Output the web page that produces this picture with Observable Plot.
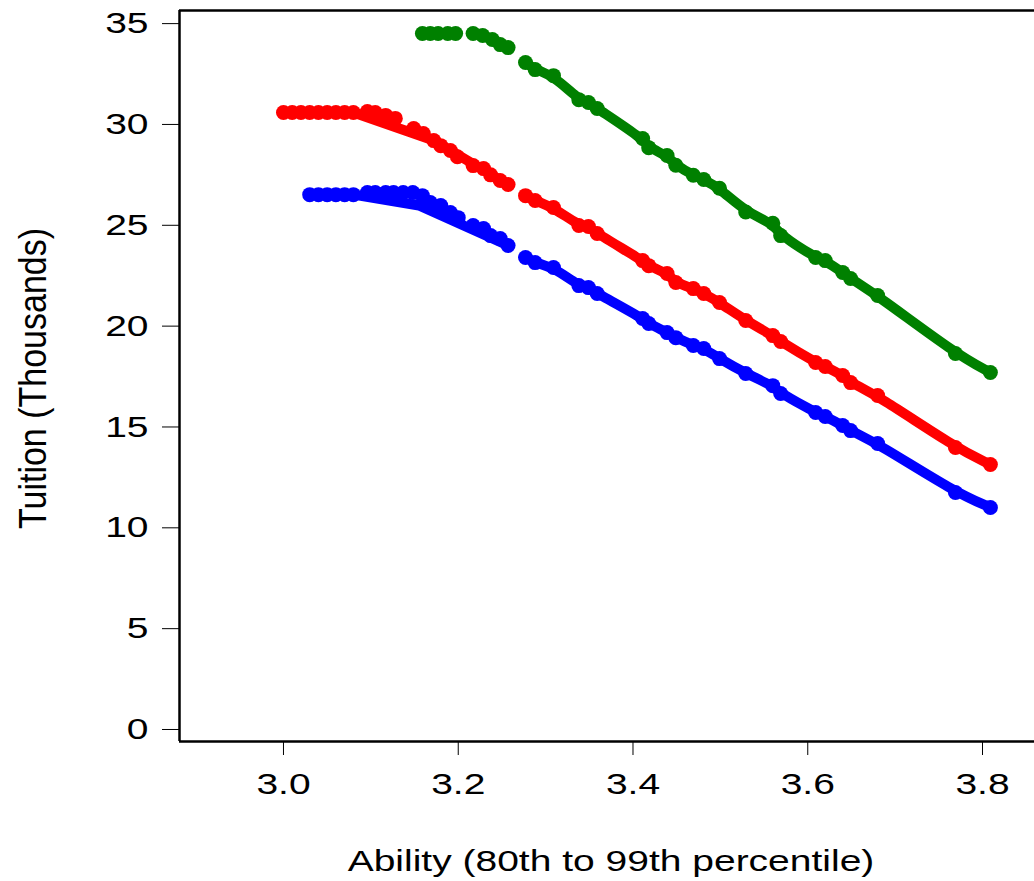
<!DOCTYPE html>
<html>
<head>
<meta charset="utf-8">
<script src="https://cdn.jsdelivr.net/npm/d3@7"></script>
<script src="https://cdn.jsdelivr.net/npm/@observablehq/plot@0.6"></script>
<style>
  html, body { margin: 0; padding: 0; background: #fff; }
  #chart { width: 1034px; height: 881px; }
</style>
</head>
<body>
<div id="chart"></div>
<script>
// ---------- data ----------
const xTitle = "Ability (80th to 99th percentile)";
const yTitle = "Tuition (Thousands)";
const xTicks = [3.0, 3.2, 3.4, 3.6, 3.8];
const yTicks = [0, 5, 10, 15, 20, 25, 30, 35];

// shared ability grid for the right-hand (linear) part
const rightAbility = [3.277, 3.288, 3.309, 3.338, 3.349, 3.359, 3.411, 3.418, 3.439, 3.449, 3.469, 3.481, 3.499, 3.529, 3.560, 3.569, 3.609, 3.620, 3.640, 3.649, 3.680, 3.769, 3.809];
const blueRight  = [23.40, 23.15, 22.91, 22.01, 21.91, 21.62, 20.38, 20.13, 19.68, 19.43, 19.04, 18.89, 18.39, 17.65, 17.05, 16.66, 15.72, 15.52, 15.07, 14.82, 14.18, 11.75, 11.01];
const redRight   = [26.47, 26.23, 25.88, 24.99, 24.94, 24.59, 23.25, 23.00, 22.61, 22.16, 21.86, 21.62, 21.17, 20.28, 19.53, 19.24, 18.20, 18.00, 17.55, 17.20, 16.56, 13.98, 13.14];
const greenRight = [33.07, 32.72, 32.42, 31.23, 31.09, 30.79, 29.30, 28.85, 28.46, 27.98, 27.48, 27.27, 26.84, 25.66, 25.10, 24.49, 23.40, 23.25, 22.66, 22.36, 21.52, 18.64, 17.70];

// left-hand (capped) dots
const blueLeftX = [3.03, 3.04, 3.05, 3.06, 3.07, 3.08, 3.096, 3.105, 3.117, 3.126, 3.137, 3.148, 3.159, 3.168, 3.180, 3.191, 3.200, 3.217, 3.229, 3.237, 3.248, 3.257];
const blueLeftY = [26.52, 26.52, 26.52, 26.52, 26.52, 26.52, 26.62, 26.62, 26.62, 26.62, 26.62, 26.62, 26.47, 26.13, 25.98, 25.63, 25.38, 24.99, 24.84, 24.49, 24.34, 24.00];
const redLeftX = [3.00, 3.01, 3.02, 3.03, 3.04, 3.05, 3.06, 3.07, 3.08, 3.096, 3.105, 3.117, 3.128, 3.149, 3.160, 3.172, 3.180, 3.191, 3.199, 3.217, 3.229, 3.237, 3.248, 3.257];
const redLeftY = [30.59, 30.59, 30.59, 30.59, 30.59, 30.59, 30.59, 30.59, 30.59, 30.64, 30.59, 30.45, 30.30, 29.80, 29.55, 29.20, 28.95, 28.71, 28.40, 27.96, 27.81, 27.50, 27.22, 27.02];
const greenLeftX = [3.159, 3.168, 3.177, 3.188, 3.197, 3.217, 3.228, 3.239, 3.248, 3.257];
const greenLeftY = [34.51, 34.51, 34.51, 34.51, 34.51, 34.51, 34.41, 34.21, 33.96, 33.81];

// left-hand line vertices (segment id, x, y)
const blueLineSeg = ["b1", "b1", "b1", "b1"];
const blueLineX = [3.03, 3.08, 3.155, 3.257];
const blueLineY = [26.52, 26.52, 25.98, 24.00];
const redLineSeg = ["r1", "r1", "r1", "r1"];
const redLineX = [3.00, 3.08, 3.172, 3.257];
const redLineY = [30.59, 30.59, 29.20, 27.02];
const greenLineSeg = ["g1", "g1", "g2", "g2", "g2", "g2", "g2"];
const greenLineX = [3.159, 3.197, 3.217, 3.228, 3.239, 3.248, 3.257];
const greenLineY = [34.51, 34.51, 34.51, 34.41, 34.21, 33.96, 33.81];

const seriesColors = {blue: "#0000ff", red: "#ff0000", green: "#008000"};

// ---------- build tables ----------
const dots = [];
const leftLines = [];
const rightLines = [];
function addSeries(name, leftX, leftY, right, lSeg, lX, lY) {
  const c = seriesColors[name];
  leftX.forEach((x, i) => dots.push({x, y: leftY[i], c}));
  rightAbility.forEach((x, i) => dots.push({x, y: right[i], c}));
  lX.forEach((x, i) => leftLines.push({x, y: lY[i], c, seg: lSeg[i]}));
  rightAbility.forEach((x, i) => rightLines.push({x, y: right[i], c, seg: name + "R"}));
}
addSeries("blue", blueLeftX, blueLeftY, blueRight, blueLineSeg, blueLineX, blueLineY);
addSeries("red", redLeftX, redLeftY, redRight, redLineSeg, redLineX, redLineY);
addSeries("green", greenLeftX, greenLeftY, greenRight, greenLineSeg, greenLineX, greenLineY);

const xDomain = [2.881, 3.8595];
const yDomain = [-0.595, 35.65];

const plot = Plot.plot({
  width: 1034,
  height: 881,
  marginLeft: 179,
  marginRight: 0,
  marginTop: 10,
  marginBottom: 140,
  style: {fontFamily: "'Liberation Sans', Arial, sans-serif", fontSize: "30px", color: "#000", background: "#fff"},
  x: {domain: xDomain},
  y: {domain: yDomain},
  marks: [
    Plot.line(leftLines, {x: "x", y: "y", z: "seg", stroke: "c", strokeWidth: 10, strokeLinejoin: "round", strokeLinecap: "butt"}),
    Plot.line(rightLines, {x: "x", y: "y", z: "seg", stroke: "c", strokeWidth: 10, strokeLinejoin: "round", strokeLinecap: "butt", curve: "basis"}),
    Plot.dot(dots, {x: "x", y: "y", r: 7.5, fill: "c", stroke: "none"}),
    Plot.ruleX([xDomain[0]], {stroke: "#000", strokeWidth: 2.5}),
    Plot.ruleY([yDomain[0]], {stroke: "#000", strokeWidth: 2.5}),
    Plot.ruleY([yDomain[1]], {stroke: "#000", strokeWidth: 2.5}),
    Plot.axisX(xTicks, {tickSize: 14, tickPadding: 17, tickFormat: d3.format(".1f"), label: null, stroke: "#000", fill: "#000", fontSize: 30}),
    Plot.axisY(yTicks, {tickSize: 17, tickPadding: 14, label: null, stroke: "#000", fill: "#000", fontSize: 30}),
    Plot.text([xTitle], {frameAnchor: "bottom", dx: 4, dy: 120, fontSize: 30, fill: "#000", lineAnchor: "middle", textAnchor: "middle"}),
    Plot.text([yTitle], {frameAnchor: "left", dx: -146, dy: 2.5, rotate: -90, fontSize: 34, fill: "#000", lineAnchor: "middle", textAnchor: "middle"})
  ]
});

// the reference rendering is horizontally stretched; stretch the text the same way
plot.querySelectorAll("text").forEach((t) => {
  const tr = t.getAttribute("transform") || "";
  if (tr.includes("rotate")) t.setAttribute("transform", tr + " scale(1,1.15)");
  else t.setAttribute("transform", tr + " scale(1.3,1)");
});

document.getElementById("chart").appendChild(plot);
</script>
</body>
</html>
